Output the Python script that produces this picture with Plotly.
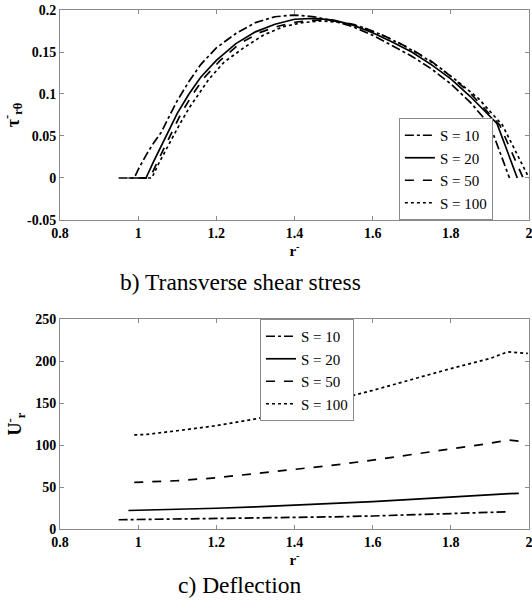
import plotly.graph_objects as go

# ---- panel b) transverse shear stress ----
tau_r_s10 = [0.95, 0.99, 1.00, 1.02, 1.04, 1.06, 1.08, 1.10, 1.13, 1.16, 1.20, 1.25, 1.30, 1.35, 1.40, 1.45, 1.50, 1.55, 1.60, 1.65, 1.70, 1.75, 1.80, 1.85, 1.90, 1.95]
tau_s10 = [0, 0, 0.01, 0.027, 0.042, 0.055, 0.074, 0.092, 0.115, 0.135, 0.155, 0.172, 0.185, 0.192, 0.194, 0.192, 0.187, 0.180, 0.170, 0.158, 0.145, 0.130, 0.112, 0.090, 0.063, 0]

tau_r_s20 = [0.975, 1.02, 1.04, 1.06, 1.08, 1.10, 1.13, 1.16, 1.20, 1.25, 1.30, 1.35, 1.40, 1.45, 1.50, 1.55, 1.60, 1.65, 1.70, 1.75, 1.80, 1.85, 1.918, 1.97]
tau_s20 = [0, 0, 0.02, 0.04, 0.058, 0.077, 0.10, 0.12, 0.14, 0.16, 0.174, 0.183, 0.189, 0.190, 0.188, 0.182, 0.173, 0.162, 0.150, 0.135, 0.118, 0.097, 0.065, 0]

tau_r_s50 = [1.00, 1.03, 1.05, 1.07, 1.09, 1.11, 1.14, 1.17, 1.21, 1.26, 1.31, 1.36, 1.41, 1.46, 1.50, 1.55, 1.60, 1.65, 1.70, 1.75, 1.80, 1.85, 1.925, 1.985]
tau_s50 = [0, 0, 0.02, 0.04, 0.058, 0.077, 0.10, 0.12, 0.14, 0.16, 0.173, 0.181, 0.186, 0.188, 0.187, 0.183, 0.175, 0.165, 0.153, 0.139, 0.121, 0.101, 0.063, 0]

tau_r_s100 = [1.01, 1.035, 1.05, 1.07, 1.09, 1.11, 1.13, 1.155, 1.18, 1.22, 1.27, 1.32, 1.37, 1.42, 1.47, 1.52, 1.57, 1.62, 1.67, 1.72, 1.77, 1.82, 1.87, 1.932, 2.0]
tau_s100 = [0, 0, 0.015, 0.033, 0.05, 0.067, 0.083, 0.10, 0.117, 0.138, 0.155, 0.170, 0.180, 0.185, 0.187, 0.185, 0.180, 0.171, 0.160, 0.147, 0.132, 0.114, 0.095, 0.063, 0]

# ---- panel c) deflection ----
u_r_s10 = [0.95, 1.0, 1.1, 1.2, 1.3, 1.4, 1.5, 1.6, 1.7, 1.8, 1.9, 1.946]
u_s10 = [11, 11.3, 11.8, 12.3, 12.8, 13.6, 14.5, 15.5, 16.8, 18.2, 19.8, 20.5]

u_r_s20 = [0.975, 1.0, 1.1, 1.2, 1.3, 1.4, 1.5, 1.6, 1.7, 1.8, 1.9, 1.95, 1.974]
u_s20 = [22, 22.2, 23.3, 24.7, 26.3, 28.1, 30.2, 32.5, 35.2, 38.2, 41.0, 42.2, 42.3]

u_r_s50 = [0.99, 1.0, 1.05, 1.1, 1.2, 1.3, 1.4, 1.5, 1.6, 1.7, 1.8, 1.9, 1.946, 1.985]
u_s50 = [55.5, 55.7, 56.5, 57.5, 61, 66, 70.5, 76, 82, 88.5, 95.5, 102, 106, 104]

u_r_s100 = [0.99, 1.02, 1.1, 1.2, 1.3, 1.4, 1.5, 1.6, 1.7, 1.8, 1.9, 1.946, 1.997]
u_s100 = [112, 112.5, 117, 123, 131, 141, 153, 165, 178, 191, 203, 211, 209]

series_names = ["S = 10", "S = 20", "S = 50", "S = 100"]
dashes = ["dashdot", "solid", "dash", "dot"]

x_ticks = [0.8, 1, 1.2, 1.4, 1.6, 1.8, 2]
x_ticktext = ["0.8", "1", "1.2", "1.4", "1.6", "1.8", "2"]
tau_ticks = [-0.05, 0, 0.05, 0.1, 0.15, 0.2]
tau_ticktext = ["-0.05", "0", "0.05", "0.1", "0.15", "0.2"]
u_ticks = [0, 50, 100, 150, 200, 250]
u_ticktext = ["0", "50", "100", "150", "200", "250"]

SERIF = "Liberation Serif"

fig = go.Figure()
tau_r = [tau_r_s10, tau_r_s20, tau_r_s50, tau_r_s100]
tau_v = [tau_s10, tau_s20, tau_s50, tau_s100]
u_r = [u_r_s10, u_r_s20, u_r_s50, u_r_s100]
u_v = [u_s10, u_s20, u_s50, u_s100]

for i in range(4):
    fig.add_trace(go.Scatter(x=tau_r[i], y=tau_v[i], mode="lines", name=series_names[i],
                             line=dict(color="black", width=1.7, dash=dashes[i]),
                             xaxis="x", yaxis="y", legend="legend", cliponaxis=False))
for i in range(4):
    fig.add_trace(go.Scatter(x=u_r[i], y=u_v[i], mode="lines", name=series_names[i],
                             line=dict(color="black", width=1.7, dash=dashes[i]),
                             xaxis="x2", yaxis="y2", legend="legend2", cliponaxis=False))

axis_common = dict(showline=True, linecolor="#8a8a8a", linewidth=1, mirror="ticks",
                   ticks="inside", ticklen=4, tickcolor="#8a8a8a", showgrid=False, zeroline=False,
                   automargin=False, ticklabeloverflow="allow",
                   tickfont=dict(family=SERIF, size=14, color="black", weight="bold"))

title_font = dict(family=SERIF, size=18, weight="bold", color="black")
legend_font = dict(family=SERIF, size=15, color="black")

fig.update_layout(
    width=532, height=609,
    margin=dict(l=60, r=3, t=10, b=80),
    paper_bgcolor="white", plot_bgcolor="white",
    font=dict(family=SERIF),
    showlegend=True,
    xaxis=dict(domain=[0, 1], range=[0.8, 2.0], tickvals=x_ticks, ticktext=x_ticktext, anchor="y",
               title=dict(text="r<sup>-</sup>", font=dict(family=SERIF, size=15, weight="bold", color="black"), standoff=0),
               **axis_common),
    yaxis=dict(domain=[0.5954, 1.0], range=[-0.05, 0.2], tickvals=tau_ticks, ticktext=tau_ticktext, anchor="x",
               title=dict(text="τ<sup>-</sup><sub>rθ</sub>", font=title_font, standoff=8),
               **axis_common),
    xaxis2=dict(domain=[0, 1], range=[0.8, 2.0], tickvals=x_ticks, ticktext=x_ticktext, anchor="y2",
                title=dict(text="r<sup>-</sup>", font=dict(family=SERIF, size=15, weight="bold", color="black"), standoff=0),
                **axis_common),
    yaxis2=dict(domain=[0.0, 0.4046], range=[0, 250], tickvals=u_ticks, ticktext=u_ticktext, anchor="x2",
                title=dict(text="U<sup>-</sup><sub>r</sub>", font=title_font, standoff=8),
                **axis_common),
    legend=dict(x=0.923, y=0.5954, xanchor="right", yanchor="bottom", bgcolor="white",
                bordercolor="#8a8a8a", borderwidth=1, font=legend_font,
                itemwidth=30, tracegroupgap=0),
    legend2=dict(x=0.4264, y=0.4046, xanchor="left", yanchor="top", bgcolor="white",
                 bordercolor="#8a8a8a", borderwidth=1, font=legend_font,
                 itemwidth=30, tracegroupgap=0),
    annotations=[
        dict(text="b) Transverse shear stress", x=240, y=282, xref="paper", yref="paper", showarrow=False,
             xanchor="center", yanchor="middle", font=dict(family=SERIF, size=23.5, color="black")),
        dict(text="c) Deflection", x=240, y=585, xref="paper", yref="paper", showarrow=False,
             xanchor="center", yanchor="middle", font=dict(family=SERIF, size=23.5, color="black")),
    ],
)

# convert pixel positions of captions to paper coordinates
plot_w = 532 - 60 - 3
plot_h = 609 - 10 - 80
for ann in fig.layout.annotations:
    px, py = ann.x, ann.y
    ann.x = (px - 60) / plot_w
    ann.y = (609 - 80 - py) / plot_h

fig.write_html("out.html", config={"displayModeBar": False},
               post_script="document.body.style.margin='0';")
